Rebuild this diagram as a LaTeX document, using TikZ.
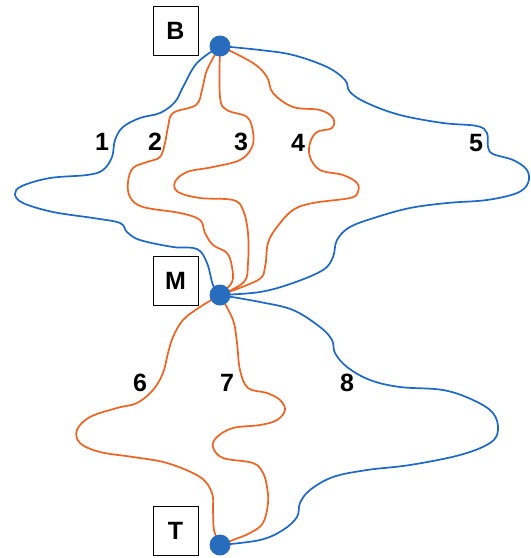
\documentclass[tikz,border=0pt]{standalone}
\usepackage{fontspec}
\setmainfont{Liberation Sans}
\definecolor{blueL}{RGB}{28,104,200}
\definecolor{orangeL}{RGB}{240,98,32}
\definecolor{dotC}{RGB}{40,108,190}
\begin{document}
\begin{tikzpicture}[x=1pt,y=-1pt,
  bl/.style={draw=blueL,line width=1.7pt},
  orr/.style={draw=orangeL,line width=1.7pt},
  dotn/.style={circle,fill=dotC,inner sep=0pt,minimum size=21pt},
  lbox/.style={draw=black,line width=0.9pt,minimum width=45pt,minimum height=49pt,inner sep=0pt,font=\fontsize{25}{25}\selectfont\bfseries},
  num/.style={font=\fontsize{25}{25}\selectfont\bfseries}]
\useasboundingbox (0,0) rectangle (531,558);
\coordinate (B) at (220,46);
\coordinate (M) at (220,295);
\coordinate (T) at (220,545);
% curve 1
\draw[bl] plot[smooth,tension=0.6] coordinates {(B) (197,63) (183,87) (175,102) (160,113) (140,118) (123,127) (115,140) (112,157) (103,170) (87,175) (50,178) (22,186) (15,194) (23,203) (53,212) (93,218) (120,223) (127,232) (140,240) (173,247) (197,249) (207,263) (213,285) (M)};
% curve 2
\draw[orr] plot[smooth,tension=0.6] coordinates {(B) (207,70) (202,90) (196,105) (173,113) (168,127) (165,143) (160,157) (147,162) (133,168) (128,182) (130,197) (143,207) (180,213) (200,220) (205,233) (213,245) (227,253) (232,267) (232,282) (M)};
% curve 3
\draw[orr] plot[smooth,tension=0.6] coordinates {(B) (220,97) (227,110) (247,117) (253,132) (252,147) (240,160) (213,167) (187,172) (175,182) (178,192) (200,198) (233,200) (243,210) (248,233) (248,263) (244,282) (M)};
% curve 4
\draw[orr] plot[smooth,tension=0.6] coordinates {(B) (253,63) (267,77) (273,93) (293,107) (320,110) (333,118) (332,128) (317,132) (310,143) (310,157) (320,170) (343,175) (357,183) (358,192) (350,198) (313,203) (293,210) (277,227) (268,243) (265,267) (258,280) (M)};
% curve 5
\draw[bl] plot[smooth,tension=0.6] coordinates {(B) (260,50) (293,55) (327,67) (345,80) (350,92) (367,103) (400,115) (443,123) (477,126) (487,133) (488,147) (493,154) (513,160) (527,170) (528,183) (517,193) (487,200) (447,203) (410,208) (377,217) (350,227) (337,240) (333,257) (323,270) (293,283) (260,292) (M)};
% curve 6
\draw[orr] plot[smooth,tension=0.6] coordinates {(M) (200,307) (183,320) (173,337) (168,353) (163,373) (153,390) (137,403) (117,408) (90,417) (77,430) (80,443) (100,452) (133,457) (167,463) (200,477) (212,493) (213,510) (214,530) (T)};
% curve 7
\draw[orr] plot[smooth,tension=0.6] coordinates {(M) (233,320) (237,343) (240,370) (248,388) (267,393) (280,400) (285,410) (277,420) (260,425) (233,428) (217,437) (213,447) (223,458) (253,463) (263,473) (267,487) (268,503) (263,523) (250,533) (233,540) (T)};
% curve 8
\draw[bl] plot[smooth,tension=0.6] coordinates {(M) (260,302) (293,310) (320,327) (332,340) (335,353) (347,367) (370,380) (400,387) (443,390) (473,400) (493,413) (498,430) (490,443) (460,455) (410,465) (367,470) (333,477) (310,490) (300,503) (297,517) (283,530) (260,540) (T)};
% dots
\node[dotn] (dB) at (B) {};
\node[dotn] (dM) at (M) {};
\node[dotn] (dT) at (T) {};
% boxes
\node[lbox] (boxB) at (175.5,30.5) {B};
\node[lbox] (boxM) at (175.5,281) {M};
\node[lbox] (boxT) at (175.5,530.5) {T};
% labels
\node[num] (n1) at (102,142) {1};
\node[num] (n2) at (155,142) {2};
\node[num] (n3) at (241,142) {3};
\node[num] (n4) at (298,143) {4};
\node[num] (n5) at (476,143) {5};
\node[num] (n6) at (140,383) {6};
\node[num] (n7) at (227,383) {7};
\node[num] (n8) at (347,383) {8};
\end{tikzpicture}
\end{document}
